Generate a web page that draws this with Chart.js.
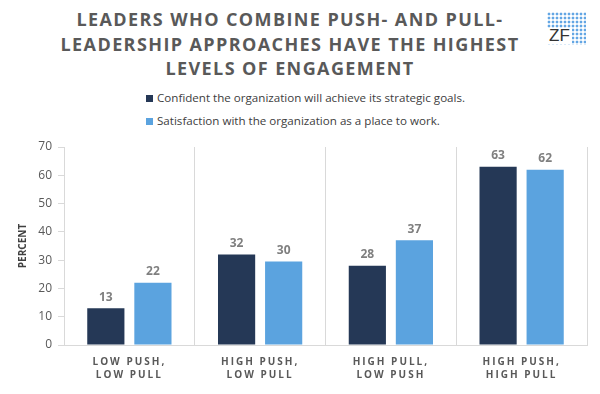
<!DOCTYPE html>
<html>
<head>
<meta charset="utf-8">
<script src="https://cdn.jsdelivr.net/npm/chart.js@4"></script>
<style>
    body { margin: 0; background: #fff; }
    #wrap { position: relative; width: 600px; height: 394px; overflow: hidden; font-family: "Open Sans", sans-serif; }
    #title { position: absolute; left: 0; width: 580px; top: 7px; text-align: center; font-weight: 700; font-size: 18px; line-height: 24.5px; letter-spacing: 1.4px; color: #595959; }
    #logo { position: absolute; left: 547px; top: 12px; width: 39px; height: 33px;
            background-image: radial-gradient(circle, #63a6e4 1.2px, transparent 1.7px); background-size: 4px 4px; }
    #logo span { position: absolute; left: 0; top: 16px; width: 25px; height: 16px; background: #fff;
                 font-family: "Liberation Sans", sans-serif; font-size: 17px; line-height: 16px; color: #333; text-align: center; }
    #legend { position: absolute; left: 146px; top: 88px; font-size: 11.6px; color: #404040; }
    #legend div { height: 23px; line-height: 20px; white-space: nowrap; }
    #legend i { display: inline-block; width: 7px; height: 7px; margin-right: 4px; vertical-align: 0px; }
    #chartBox { position: absolute; left: 0; top: 130px; width: 600px; height: 264px; }
</style>
</head>
<body>
<div id="wrap">
    <div id="title">LEADERS WHO COMBINE PUSH- AND PULL-<br>LEADERSHIP APPROACHES HAVE THE HIGHEST<br>LEVELS OF ENGAGEMENT</div>
    <div id="logo"><span>ZF</span></div>
    <div id="legend"></div>
    <div id="chartBox"><canvas id="myChart"></canvas></div>
</div>
<script>
// chart data
const categories = [
    ['LOW PUSH,', 'LOW PULL'],
    ['HIGH PUSH,', 'LOW PULL'],
    ['HIGH PULL,', 'LOW PUSH'],
    ['HIGH PUSH,', 'HIGH PULL']
];
const seriesNames = [
    'Confident the organization will achieve its strategic goals.',
    'Satisfaction with the organization as a place to work.'
];
const confidentValues = [13, 32, 28, 63];
const satisfactionValues = [22, 29.5, 37, 62];
const yTicks = [0, 10, 20, 30, 40, 50, 60, 70];

const colors = ['#253856', '#5ba3df'];

// html legend
const legendEl = document.getElementById('legend');
seriesNames.forEach(function (name, i) {
    const row = document.createElement('div');
    row.innerHTML = '<i style="background:' + colors[i] + '"></i>' + name;
    legendEl.appendChild(row);
});

// value labels above bars + letter spacing for x labels
const barLabels = {
    id: 'barLabels',
    afterDatasetsDraw: function (chart) {
        const ctx = chart.ctx;
        ctx.save();
        ctx.font = 'bold 12px "Open Sans"';
        ctx.fillStyle = '#7f7f7f';
        ctx.textAlign = 'center';
        ctx.textBaseline = 'bottom';
        chart.data.datasets.forEach(function (ds, i) {
            chart.getDatasetMeta(i).data.forEach(function (bar, j) {
                ctx.fillText(Math.round(ds.data[j]), bar.x, bar.y - 5);
            });
        });
        ctx.restore();
        ctx.letterSpacing = '2px';
    },
    afterDraw: function (chart) {
        chart.ctx.letterSpacing = '0px';
    }
};

const ctx = document.getElementById('myChart').getContext('2d');
const myChart = new Chart(ctx, {
    type: 'bar',
    data: {
        labels: categories,
        datasets: [
            {
                label: seriesNames[0],
                data: confidentValues,
                backgroundColor: colors[0],
                categoryPercentage: 0.72,
                barPercentage: 0.79
            },
            {
                label: seriesNames[1],
                data: satisfactionValues,
                backgroundColor: colors[1],
                categoryPercentage: 0.72,
                barPercentage: 0.79
            }
        ]
    },
    plugins: [barLabels],
    options: {
        responsive: true,
        maintainAspectRatio: false,
        animation: false,
        layout: {
            padding: { top: 17, right: 13, left: 0, bottom: 0 }
        },
        scales: {
            y: {
                min: 0,
                max: 70,
                afterBuildTicks: function (scale) {
                    scale.ticks = yTicks.map(v => ({ value: v }));
                },
                afterFit: function (scale) {
                    scale.width = 64;
                },
                title: {
                    display: true,
                    text: 'PERCENT',
                    color: '#404040',
                    font: { family: 'Open Sans', size: 10, weight: 'bold' },
                    padding: { top: 17, bottom: 0 }
                },
                ticks: {
                    color: '#595959',
                    font: { family: 'Open Sans', size: 12 },
                    padding: 6
                },
                grid: {
                    drawOnChartArea: false,
                    drawTicks: true,
                    tickLength: 6,
                    color: '#d9d9d9'
                },
                border: { display: true, color: '#d9d9d9' }
            },
            x: {
                afterFit: function (scale) {
                    scale.height = 49;
                },
                ticks: {
                    z: 1,
                    color: '#595959',
                    font: { family: 'Open Sans', size: 10, weight: 'bold', lineHeight: 1.3 },
                    padding: 11,
                    maxRotation: 0
                },
                grid: {
                    display: true,
                    offset: true,
                    drawTicks: false,
                    color: '#d9d9d9'
                },
                border: { display: true, color: '#d9d9d9' }
            }
        },
        plugins: {
            legend: { display: false },
            title: { display: false },
            tooltip: { enabled: false }
        }
    }
});
</script>
</body>
</html>
